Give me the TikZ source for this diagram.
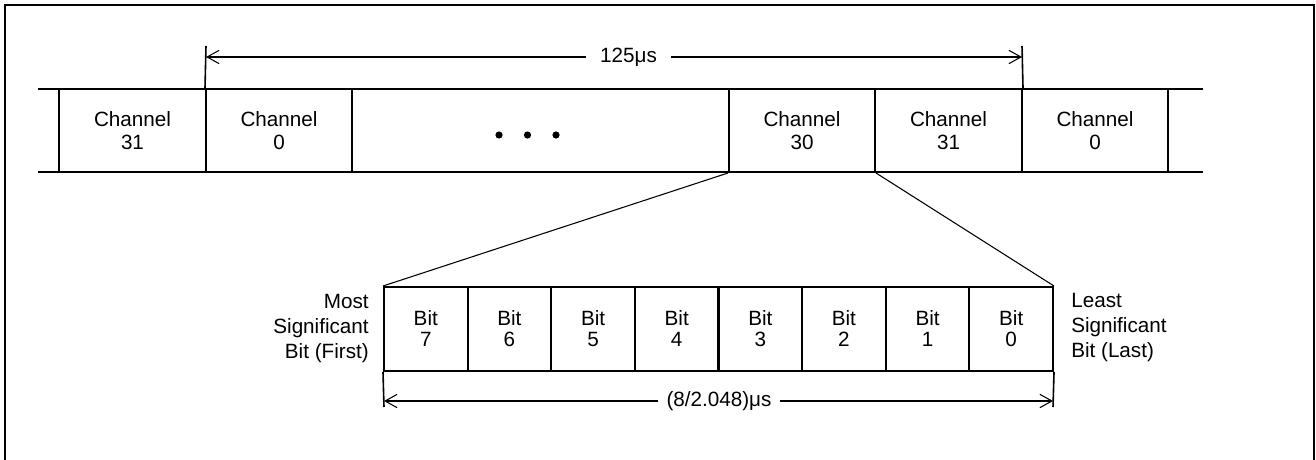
\documentclass[tikz,border=0pt]{standalone}
\usepackage{fontspec}
\setmainfont{Liberation Sans}
\usetikzlibrary{arrows.meta}
\begin{document}
\begin{tikzpicture}[x=0.75pt,y=-0.75pt,
  frameline/.style={line width=1.5pt},
  cell/.style={draw, line width=1.5pt, minimum height=62.25pt, inner sep=0pt, align=center,
    font=\fontsize{15.5}{17.25}\selectfont},
  bitcell/.style={draw, line width=1.5pt, minimum width=62.72pt, minimum height=63pt, inner sep=0pt,
    align=center, font=\fontsize{15.5}{15.75}\selectfont},
  lbl/.style={font=\fontsize{15.5}{18.75}\selectfont, inner sep=0pt},
  dimlbl/.style={font=\fontsize{15.5}{17}\selectfont, fill=white, inner ysep=2pt},
  dimline/.style={line width=1.2pt},
  barb/.style={-{Straight Barb[length=9pt,width=10pt,line width=0.8pt]}},
  slant/.style={line width=0.8pt}
]
\useasboundingbox (0,0) rectangle (1316,460);
% outer frame (bottom edge outside the picture)
\draw[frameline] (5,5) rectangle (1314,520);

% channel row
\node[cell, minimum width=110.25pt] (c31a) at (132.5,130.5) {Channel\\31};
\node[cell, minimum width=109.5pt]  (c0a)  at (279,130.5)   {Channel\\0};
\node[cell, minimum width=282.75pt] (dots) at (540.5,130.5) {};
\node[cell, minimum width=109.5pt]  (c30)  at (802,130.5)   {Channel\\30};
\node[cell, minimum width=110.25pt] (c31b) at (948.5,130.5) {Channel\\31};
\node[cell, minimum width=109.5pt]  (c0b)  at (1095,130.5)  {Channel\\0};
\coordinate (lt) at (38,89);
\coordinate (lb) at (38,172);
\coordinate (rt) at (1203,89);
\coordinate (rb) at (1203,172);
\draw[frameline] (lt) -- (rt);
\draw[frameline] (lb) -- (rb);
\fill (499,135) circle (3.6);
\fill (527.5,135) circle (3.6);
\fill (556,135) circle (3.6);

% 125 us dimension
\coordinate (tl) at (206,46);
\coordinate (tr) at (1022,46);
\draw[dimline] (c0a.north west) -- (tl);
\draw[dimline] (c31b.north east) -- (tr);
\node[dimlbl, inner xsep=10.5pt] (t125) at (628.5,57) {125μs};
\draw[dimline, barb] (t125.west) -- (206,57);
\draw[dimline, barb] (t125.east) -- (1022,57);

% bits row
\foreach \n/\x in {7/425.8,6/509.4,5/593.1,4/676.7,3/760.3,2/843.9,1/927.6,0/1011.2}{
  \node[bitcell] (b\n) at (\x,329) {Bit\\\n};
}
\draw[slant] (c30.south west) -- (b7.north west);
\draw[slant] (c30.south east) -- (b0.north east);

\node[lbl, align=right, anchor=east] (msb) at (369,328.5) {Most\\Significant\\Bit (First)};
\node[lbl, align=left, anchor=west] (lsb) at (1071,327.5) {Least\\Significant\\Bit (Last)};

% (8/2.048) us dimension
\coordinate (bl) at (384,407);
\coordinate (br) at (1053,407);
\draw[dimline] (b7.south west) -- (bl);
\draw[dimline] (b0.south east) -- (br);
\node[dimlbl, inner xsep=6pt] (tbit) at (719,401) {(8/2.048)μs};
\draw[dimline, barb] (tbit.west) -- (384,401);
\draw[dimline, barb] (tbit.east) -- (1053,401);
\end{tikzpicture}
\end{document}
